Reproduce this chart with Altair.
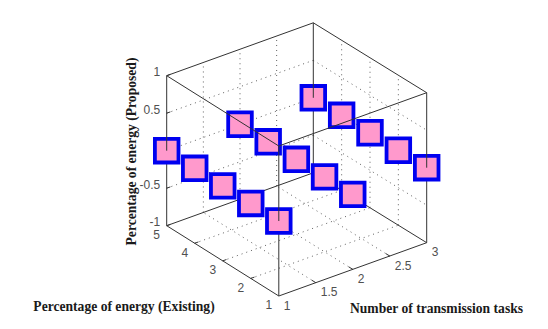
import altair as alt
import pandas as pd

# ---- data -------------------------------------------------------------
tasks = [1, 2, 3]                     # Number of transmission tasks
existing = [5, 4, 3, 2, 1]            # Percentage of energy (Existing)
proposed = [[0, 0, 0, 0, 0],          # Percentage of energy (Proposed), one row per task
            [0, 0, 0, 0, 0],
            [0, 0, 0, 0, 0]]

x_ticks = [1, 1.5, 2, 2.5, 3]
y_ticks = [1, 2, 3, 4, 5]
z_ticks = [-1, -0.5, 0, 0.5, 1]
x_tick_labels = ["1", "1.5", "2", "2.5", "3"]
y_tick_labels = ["1", "2", "3", "4", "5"]
z_tick_labels = ["-1", "-0.5", "0", "0.5", "1"]
x_title = "Number of transmission tasks"
y_title = "Percentage of energy (Existing)"
z_title = "Percentage of energy (Proposed)"

XMIN, XMAX, YMIN, YMAX, ZMIN, ZMAX = 1, 3, 1, 5, -1, 1


# ---- 3-D view: world coordinates -> picture plane (bilinear on the floor) ----
def project(x, y, z):
    u = (x - XMIN) / (XMAX - XMIN)
    v = (y - YMIN) / (YMAX - YMIN)
    px = (1 - u) * ((1 - v) * 278.8 + v * 166.7) + u * ((1 - v) * 426.7 + v * 313.3)
    py = (1 - u) * ((1 - v) * 296.0 + v * 225.7) + u * ((1 - v) * 242.7 + v * 172.8)
    return px, py - (z - ZMIN) * 75.0


def seg(rows, a, b):
    p, q = project(*a), project(*b)
    rows.append({"x": p[0], "y": p[1], "x2": q[0], "y2": q[1]})


# dotted grid on the floor and the two back walls
grid = []
for v in x_ticks[1:-1]:
    seg(grid, (v, YMIN, ZMIN), (v, YMAX, ZMIN))
    seg(grid, (v, YMAX, ZMIN), (v, YMAX, ZMAX))
for v in y_ticks[1:-1]:
    seg(grid, (XMIN, v, ZMIN), (XMAX, v, ZMIN))
    seg(grid, (XMAX, v, ZMIN), (XMAX, v, ZMAX))
for v in z_ticks[1:-1]:
    seg(grid, (XMIN, YMAX, v), (XMAX, YMAX, v))
    seg(grid, (XMAX, YMAX, v), (XMAX, YMIN, v))

# box edges: below the data plane they are hidden by the markers, above it they cross them
below, above = [], []
for a, b in [((XMIN, YMIN), (XMAX, YMIN)), ((XMIN, YMIN), (XMIN, YMAX)),
             ((XMAX, YMIN), (XMAX, YMAX)), ((XMIN, YMAX), (XMAX, YMAX))]:
    seg(below, (*a, ZMIN), (*b, ZMIN))
    seg(above, (*a, ZMAX), (*b, ZMAX))
for c in [(XMIN, YMIN), (XMAX, YMIN), (XMIN, YMAX), (XMAX, YMAX)]:
    seg(below, (*c, ZMIN), (*c, 0))
    seg(above, (*c, 0), (*c, ZMAX))

# tick marks
ticks = []
for v in x_ticks[1:-1]:
    seg(ticks, (v, YMIN, ZMIN), (v, YMIN + 0.14, ZMIN))
for v in y_ticks[1:-1]:
    seg(ticks, (XMIN, v, ZMIN), (XMIN + 0.05, v, ZMIN))
for v in z_ticks:
    seg(ticks, (XMIN, YMAX, v), (XMIN + 0.05, YMAX, v))

# markers
pts = []
for i, t in enumerate(tasks):
    for j, e in enumerate(existing):
        px, py = project(t, e, proposed[i][j])
        pts.append({"x": px, "y": py})

# tick labels
xl = pd.DataFrame([dict(zip("xy", project(v, YMIN, ZMIN)), t=s) for v, s in zip(x_ticks, x_tick_labels)])
yl = pd.DataFrame([dict(zip("xy", project(XMIN, v, ZMIN)), t=s) for v, s in zip(y_ticks, y_tick_labels)])
zl = pd.DataFrame([dict(zip("xy", project(XMIN, YMAX, v)), t=s) for v, s in zip(z_ticks, z_tick_labels)])

# ---- chart: picture pixels map one to one on the plot area --------------
sx = alt.Scale(domain=[8, 540], nice=False, zero=False)
sy = alt.Scale(domain=[321, 8], nice=False, zero=False)
X = alt.X("x:Q", scale=sx, axis=None)
Y = alt.Y("y:Q", scale=sy, axis=None)


def rules(rows, **kw):
    return alt.Chart(pd.DataFrame(rows)).mark_rule(**kw).encode(x=X, y=Y, x2="x2:Q", y2="y2:Q")


def labels(df, **kw):
    return alt.Chart(df).mark_text(font="Liberation Sans", fontSize=12, color="#505050", **kw).encode(
        x=X, y=Y, text="t:N")


def title(text, cx, cy, **kw):
    return alt.Chart(pd.DataFrame({"t": [text]})).mark_text(
        font="Liberation Serif", fontWeight="bold", fontSize=13.6, color="#1a1a1a", **kw
    ).encode(x=alt.value(cx - 8), y=alt.value(cy - 8), text="t:N")


chart = alt.layer(
    rules(grid, color="#606060", strokeWidth=1, strokeDash=[1, 4]),
    rules(below, color="#333333", strokeWidth=1),
    rules(ticks, color="#333333", strokeWidth=1),
    labels(xl, align="left", baseline="middle", dx=5, dy=9.5),
    labels(yl, align="center", baseline="middle", dx=-10, dy=9.3),
    labels(zl, align="right", baseline="middle", dx=-6.5, dy=-3.5),
    alt.Chart(pd.DataFrame(pts)).mark_square(
        size=557, fill="#ff99cc", fillOpacity=1, stroke="#0000f0", strokeWidth=3.8, opacity=1
    ).encode(x=X, y=Y),
    rules(above, color="#333333", strokeWidth=1),
    title(x_title, 436.5, 309),
    title(y_title, 124, 307),
    title(z_title, 131.5, 151.5, angle=270),
).properties(
    width=532, height=313, padding=0, autosize=alt.AutoSizeParams(type="none"),
).configure_view(stroke=None)

chart.save("out.html", embed_options={"renderer": "svg", "actions": False})
